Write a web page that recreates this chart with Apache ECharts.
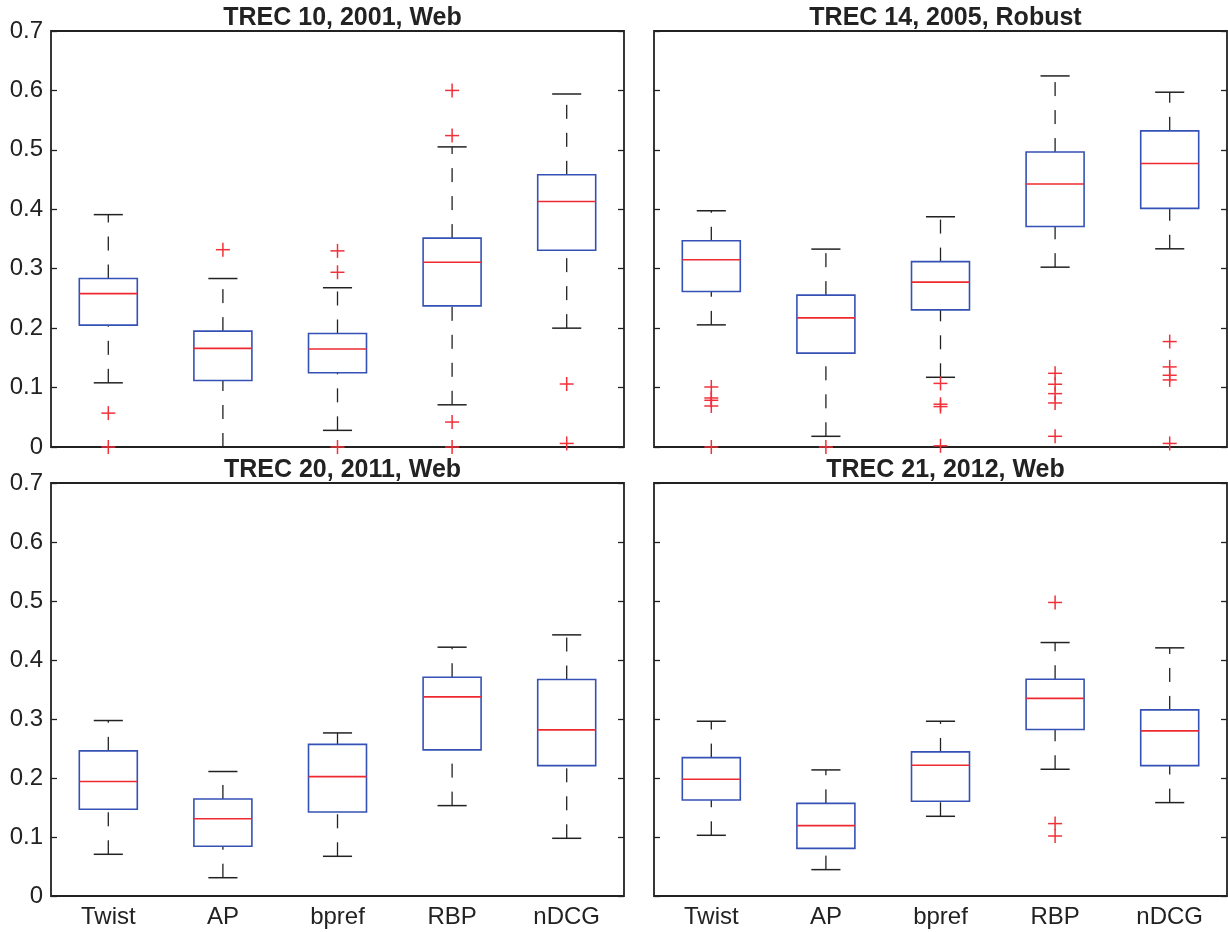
<!DOCTYPE html>
<html>
<head>
<meta charset="utf-8">
<title>Boxplots of metric scores across TREC tracks</title>
<script src="https://cdn.jsdelivr.net/npm/echarts@6/dist/echarts.min.js"></script>
<style>
  html, body { margin: 0; padding: 0; background: #fff; }
  #chart { width: 1228px; height: 932px; }
</style>
</head>
<body>
<div id="chart"></div>
<script>
// Evaluation metrics along the x axis
const metrics = ['Twist', 'AP', 'bpref', 'RBP', 'nDCG'];
const panelTitles = ['TREC 10, 2001, Web', 'TREC 14, 2005, Robust', 'TREC 20, 2011, Web', 'TREC 21, 2012, Web'];
const yTicks = [0, 0.1, 0.2, 0.3, 0.4, 0.5, 0.6, 0.7];

// Box statistics per metric: [lower whisker, Q1, median, Q3, upper whisker]
const trec10Boxes = [
  [0.108, 0.205, 0.258, 0.2835, 0.391],
  [0.000, 0.112, 0.166, 0.195, 0.2835],
  [0.028, 0.125, 0.165, 0.191, 0.268],
  [0.071, 0.2375, 0.311, 0.3515, 0.505],
  [0.200, 0.331, 0.413, 0.458, 0.594]
];
const trec14Boxes = [
  [0.2055, 0.2617, 0.315, 0.347, 0.3975],
  [0.018, 0.158, 0.2173, 0.2555, 0.333],
  [0.1173, 0.2308, 0.2774, 0.312, 0.3874],
  [0.3026, 0.371, 0.4425, 0.4963, 0.6244],
  [0.3335, 0.4015, 0.477, 0.532, 0.597]
];
const trec20Boxes = [
  [0.0707, 0.147, 0.194, 0.246, 0.2974],
  [0.031, 0.0842, 0.131, 0.1645, 0.211],
  [0.0673, 0.1425, 0.2024, 0.257, 0.2764],
  [0.1532, 0.2476, 0.3375, 0.3708, 0.4217],
  [0.0978, 0.221, 0.2815, 0.3669, 0.4426]
];
const trec21Boxes = [
  [0.1029, 0.1628, 0.1979, 0.2346, 0.2962],
  [0.0447, 0.0808, 0.1193, 0.157, 0.2137],
  [0.1351, 0.1605, 0.2216, 0.2442, 0.2962],
  [0.2148, 0.2821, 0.335, 0.3674, 0.4296],
  [0.1583, 0.221, 0.2798, 0.3154, 0.4206]
];

// Outliers: [metric index, value]
const trec10Outliers = [
  [0, 0.057], [0, 0.0],
  [1, 0.332],
  [2, 0.330], [2, 0.294], [2, 0.0],
  [3, 0.600], [3, 0.524], [3, 0.042], [3, 0.0],
  [4, 0.106], [4, 0.006]
];
const trec14Outliers = [
  [0, 0.101], [0, 0.0825], [0, 0.0786], [0, 0.069], [0, 0.0],
  [1, 0.0],
  [2, 0.107], [2, 0.072], [2, 0.068], [2, 0.002],
  [3, 0.124], [3, 0.1056], [3, 0.0898], [3, 0.0741], [3, 0.018],
  [4, 0.1774], [4, 0.1348], [4, 0.1207], [4, 0.1129], [4, 0.006]
];
const trec20Outliers = [];
const trec21Outliers = [
  [3, 0.4975], [3, 0.1227], [3, 0.1017]
];

const panelBoxes = [trec10Boxes, trec14Boxes, trec20Boxes, trec21Boxes];
const panelOutliers = [trec10Outliers, trec14Outliers, trec20Outliers, trec21Outliers];

// Panel frames in pixels
const grids = [
  { left: 51, top: 31, width: 573, height: 416 },
  { left: 654, top: 31, width: 573, height: 416 },
  { left: 51, top: 483, width: 573, height: 413 },
  { left: 654, top: 483, width: 573, height: 413 }
];

const FONT = '"Liberation Sans", Arial, Helvetica, sans-serif';
const INK = '#222';
const BOX_BLUE = '#3551b5';
const MED_RED = '#ee2a30';
const OUT_RED = '#f2303a';

function renderBox(params, api) {
  const i = api.value(0);
  const low = api.coord([i, api.value(1)]);
  const q1 = api.coord([i, api.value(2)]);
  const med = api.coord([i, api.value(3)]);
  const q3 = api.coord([i, api.value(4)]);
  const high = api.coord([i, api.value(5)]);
  const band = api.size([1, 0])[0];
  const half = band * 0.253;
  const cap = band * 0.127;
  const x = med[0];
  const dashed = { stroke: INK, lineWidth: 1.3, lineDash: [14, 14] };
  const solid = { stroke: INK, lineWidth: 1.5 };
  return {
    type: 'group',
    children: [
      { type: 'line', shape: { x1: x, y1: low[1], x2: x, y2: q1[1] }, style: dashed },
      { type: 'line', shape: { x1: x, y1: q3[1], x2: x, y2: high[1] }, style: dashed },
      { type: 'line', shape: { x1: x - cap, y1: low[1], x2: x + cap, y2: low[1] }, style: solid },
      { type: 'line', shape: { x1: x - cap, y1: high[1], x2: x + cap, y2: high[1] }, style: solid },
      { type: 'rect', shape: { x: x - half, y: q3[1], width: half * 2, height: q1[1] - q3[1] },
        style: { fill: '#fff', stroke: BOX_BLUE, lineWidth: 1.6 } },
      { type: 'line', shape: { x1: x - half, y1: med[1], x2: x + half, y2: med[1] },
        style: { stroke: MED_RED, lineWidth: 1.6 } }
    ]
  };
}

function renderPlus(params, api) {
  const p = api.coord([api.value(0), api.value(1)]);
  const r = 7;
  const st = { stroke: OUT_RED, lineWidth: 1.5 };
  return {
    type: 'group',
    children: [
      { type: 'line', shape: { x1: p[0] - r, y1: p[1], x2: p[0] + r, y2: p[1] }, style: st },
      { type: 'line', shape: { x1: p[0], y1: p[1] - r, x2: p[0], y2: p[1] + r }, style: st }
    ]
  };
}

const option = {
  animation: false,
  backgroundColor: '#fff',
  title: [],
  grid: [],
  xAxis: [],
  yAxis: [],
  series: []
};

grids.forEach((g, k) => {
  option.grid.push({
    left: g.left, top: g.top, width: g.width, height: g.height,
    show: true, borderColor: INK, borderWidth: 1.8, backgroundColor: 'transparent'
  });
  option.title.push({
    text: panelTitles[k],
    left: g.left + g.width / 2,
    top: g.top - 30,
    textAlign: 'center',
    textStyle: { fontFamily: FONT, fontSize: 25, fontWeight: 'bold', color: INK }
  });
  const bottomRow = k >= 2;
  const leftCol = k % 2 === 0;
  option.xAxis.push({
    type: 'category',
    gridIndex: k,
    data: metrics,
    boundaryGap: true,
    axisLine: { show: false },
    axisTick: { show: false },
    splitLine: { show: false },
    axisLabel: {
      show: bottomRow, margin: 9,
      fontFamily: FONT, fontSize: 24, color: INK
    }
  });
  const yBase = {
    type: 'value',
    gridIndex: k,
    min: yTicks[0],
    max: yTicks[yTicks.length - 1],
    interval: 0.1,
    axisLine: { show: false },
    splitLine: { show: false },
    axisTick: { show: true, inside: true, length: 6, lineStyle: { color: INK, width: 1.3 } }
  };
  option.yAxis.push(Object.assign({}, yBase, {
    position: 'left',
    axisLabel: {
      show: leftCol, margin: 8,
      fontFamily: FONT, fontSize: 24, color: INK,
      formatter: v => (v === 0 ? '0' : v.toFixed(1))
    }
  }));
  option.yAxis.push(Object.assign({}, yBase, {
    position: 'right',
    axisLabel: { show: false }
  }));

  option.series.push({
    type: 'custom',
    xAxisIndex: k,
    yAxisIndex: k * 2,
    renderItem: renderBox,
    encode: { x: 0, y: [1, 2, 3, 4, 5] },
    data: panelBoxes[k].map((b, i) => [i].concat(b)),
    z: 3
  });
  option.series.push({
    type: 'custom',
    xAxisIndex: k,
    yAxisIndex: k * 2,
    renderItem: renderPlus,
    encode: { x: 0, y: 1 },
    data: panelOutliers[k],
    z: 4
  });
});

const chart = echarts.init(document.getElementById('chart'), null, { renderer: 'canvas' });
chart.setOption(option);
</script>
</body>
</html>
